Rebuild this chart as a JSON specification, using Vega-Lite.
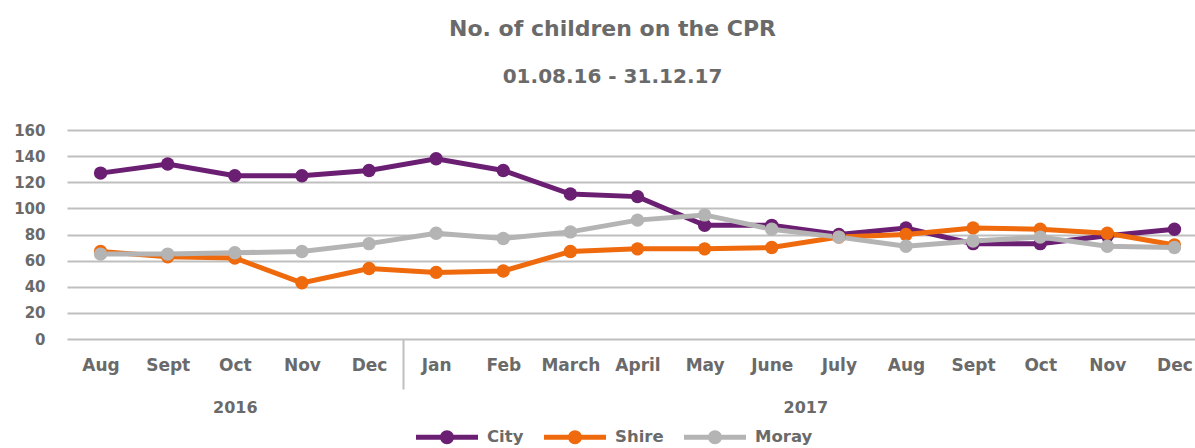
{
  "$schema": "https://vega.github.io/schema/vega-lite/v6.json",
  "width": 1141,
  "height": 209,
  "autosize": {"type": "none"},
  "padding": {"left": 67, "top": 130, "right": 0, "bottom": 109},
  "background": "white",
  "config": {
    "font": "DejaVu Sans",
    "view": {"stroke": null},
    "axis": {"labelFont": "DejaVu Sans", "labelFontWeight": "bold", "labelColor": "#6a6a6a"}
  },
  "title": {
    "text": "No. of children on the CPR",
    "subtitle": "01.08.16 - 31.12.17",
    "anchor": "middle",
    "frame": "group",
    "dx": -25,
    "offset": 35,
    "font": "DejaVu Sans",
    "fontSize": 22,
    "fontWeight": "bold",
    "color": "#6a6a6a",
    "subtitleFont": "DejaVu Sans",
    "subtitleFontSize": 20,
    "subtitleFontWeight": "bold",
    "subtitleColor": "#6a6a6a",
    "subtitlePadding": 26
  },
  "data": {
    "values": [
      {"idx": 0, "month": "Aug", "year": 2016, "area": "City", "children": 127},
      {"idx": 1, "month": "Sept", "year": 2016, "area": "City", "children": 134},
      {"idx": 2, "month": "Oct", "year": 2016, "area": "City", "children": 125},
      {"idx": 3, "month": "Nov", "year": 2016, "area": "City", "children": 125},
      {"idx": 4, "month": "Dec", "year": 2016, "area": "City", "children": 129},
      {"idx": 5, "month": "Jan", "year": 2017, "area": "City", "children": 138},
      {"idx": 6, "month": "Feb", "year": 2017, "area": "City", "children": 129},
      {"idx": 7, "month": "March", "year": 2017, "area": "City", "children": 111},
      {"idx": 8, "month": "April", "year": 2017, "area": "City", "children": 109},
      {"idx": 9, "month": "May", "year": 2017, "area": "City", "children": 87},
      {"idx": 10, "month": "June", "year": 2017, "area": "City", "children": 87},
      {"idx": 11, "month": "July", "year": 2017, "area": "City", "children": 80},
      {"idx": 12, "month": "Aug", "year": 2017, "area": "City", "children": 85},
      {"idx": 13, "month": "Sept", "year": 2017, "area": "City", "children": 73},
      {"idx": 14, "month": "Oct", "year": 2017, "area": "City", "children": 73},
      {"idx": 15, "month": "Nov", "year": 2017, "area": "City", "children": 79},
      {"idx": 16, "month": "Dec", "year": 2017, "area": "City", "children": 84},
      {"idx": 0, "month": "Aug", "year": 2016, "area": "Shire", "children": 67},
      {"idx": 1, "month": "Sept", "year": 2016, "area": "Shire", "children": 63},
      {"idx": 2, "month": "Oct", "year": 2016, "area": "Shire", "children": 62},
      {"idx": 3, "month": "Nov", "year": 2016, "area": "Shire", "children": 43},
      {"idx": 4, "month": "Dec", "year": 2016, "area": "Shire", "children": 54},
      {"idx": 5, "month": "Jan", "year": 2017, "area": "Shire", "children": 51},
      {"idx": 6, "month": "Feb", "year": 2017, "area": "Shire", "children": 52},
      {"idx": 7, "month": "March", "year": 2017, "area": "Shire", "children": 67},
      {"idx": 8, "month": "April", "year": 2017, "area": "Shire", "children": 69},
      {"idx": 9, "month": "May", "year": 2017, "area": "Shire", "children": 69},
      {"idx": 10, "month": "June", "year": 2017, "area": "Shire", "children": 70},
      {"idx": 11, "month": "July", "year": 2017, "area": "Shire", "children": 78},
      {"idx": 12, "month": "Aug", "year": 2017, "area": "Shire", "children": 80},
      {"idx": 13, "month": "Sept", "year": 2017, "area": "Shire", "children": 85},
      {"idx": 14, "month": "Oct", "year": 2017, "area": "Shire", "children": 84},
      {"idx": 15, "month": "Nov", "year": 2017, "area": "Shire", "children": 81},
      {"idx": 16, "month": "Dec", "year": 2017, "area": "Shire", "children": 72},
      {"idx": 0, "month": "Aug", "year": 2016, "area": "Moray", "children": 65},
      {"idx": 1, "month": "Sept", "year": 2016, "area": "Moray", "children": 65},
      {"idx": 2, "month": "Oct", "year": 2016, "area": "Moray", "children": 66},
      {"idx": 3, "month": "Nov", "year": 2016, "area": "Moray", "children": 67},
      {"idx": 4, "month": "Dec", "year": 2016, "area": "Moray", "children": 73},
      {"idx": 5, "month": "Jan", "year": 2017, "area": "Moray", "children": 81},
      {"idx": 6, "month": "Feb", "year": 2017, "area": "Moray", "children": 77},
      {"idx": 7, "month": "March", "year": 2017, "area": "Moray", "children": 82},
      {"idx": 8, "month": "April", "year": 2017, "area": "Moray", "children": 91},
      {"idx": 9, "month": "May", "year": 2017, "area": "Moray", "children": 95},
      {"idx": 10, "month": "June", "year": 2017, "area": "Moray", "children": 84},
      {"idx": 11, "month": "July", "year": 2017, "area": "Moray", "children": 78},
      {"idx": 12, "month": "Aug", "year": 2017, "area": "Moray", "children": 71},
      {"idx": 13, "month": "Sept", "year": 2017, "area": "Moray", "children": 75},
      {"idx": 14, "month": "Oct", "year": 2017, "area": "Moray", "children": 78},
      {"idx": 15, "month": "Nov", "year": 2017, "area": "Moray", "children": 71},
      {"idx": 16, "month": "Dec", "year": 2017, "area": "Moray", "children": 70}
    ]
  },
  "encoding": {
    "y": {
      "field": "children",
      "type": "quantitative",
      "scale": {"domain": [0, 160], "nice": false},
      "axis": {
        "title": null,
        "values": [0, 20, 40, 60, 80, 100, 120, 140, 160],
        "grid": true,
        "gridColor": "#bfbfbf",
        "gridWidth": 2,
        "domain": false,
        "ticks": false,
        "labelFontSize": 15,
        "labelPadding": 22
      }
    },
    "color": {
      "field": "area",
      "type": "nominal",
      "scale": {"domain": ["City", "Shire", "Moray"], "range": ["#6b1f73", "#ee6a0c", "#b4b4b4"]},
      "legend": {
        "title": null,
        "orient": "none",
        "legendX": 349,
        "legendY": 276,
        "direction": "horizontal",
        "symbolType": "M-1,-0.08H1V0.08H-1Z M-0.225,0A0.225,0.225 0 1,1 0.225,0A0.225,0.225 0 1,1 -0.225,0Z",
        "symbolSize": 3844,
        "symbolStrokeWidth": 0,
        "symbolOpacity": 1,
        "labelFont": "DejaVu Sans",
        "labelFontSize": 16.5,
        "labelFontWeight": "bold",
        "labelColor": "#6a6a6a",
        "labelOffset": 9,
        "columnPadding": 20
      }
    }
  },
  "layer": [
    {
      "mark": {"type": "line", "strokeWidth": 5},
      "encoding": {
        "x": {
          "field": "idx",
          "type": "quantitative",
          "scale": {"domain": [-0.5, 16.5], "nice": false, "zero": false},
          "axis": {
            "title": null,
            "values": [0, 1, 2, 3, 4, 4.5, 5, 6, 7, 8, 9, 10, 11, 12, 13, 14, 15, 16],
            "labelExpr": "datum.value == 4.5 ? '' : ['Aug','Sept','Oct','Nov','Dec','Jan','Feb','March','April','May','June','July','Aug','Sept','Oct','Nov','Dec'][datum.value]",
            "grid": false,
            "domain": false,
            "ticks": true,
            "tickSize": 50,
            "tickWidth": 2,
            "tickColor": "#bfbfbf",
            "tickOpacity": {"condition": {"test": "datum.value == 4.5", "value": 1}, "value": 0},
            "labelFontSize": 17,
            "labelPadding": -32,
            "labelFlush": false,
            "labelOverlap": false,
            "labelBound": false
          }
        }
      }
    },
    {
      "mark": {"type": "point", "filled": true, "size": 180, "opacity": 1},
      "encoding": {
        "x": {
          "field": "idx",
          "type": "quantitative",
          "axis": {
            "orient": "bottom",
            "title": null,
            "values": [2, 10.5],
            "labelExpr": "datum.value == 2 ? '2016' : '2017'",
            "grid": false,
            "domain": false,
            "ticks": false,
            "labelFontSize": 16,
            "labelPadding": 0,
            "offset": 60,
            "labelFlush": false
          }
        }
      }
    }
  ],
  "resolve": {"axis": {"x": "independent"}}
}
